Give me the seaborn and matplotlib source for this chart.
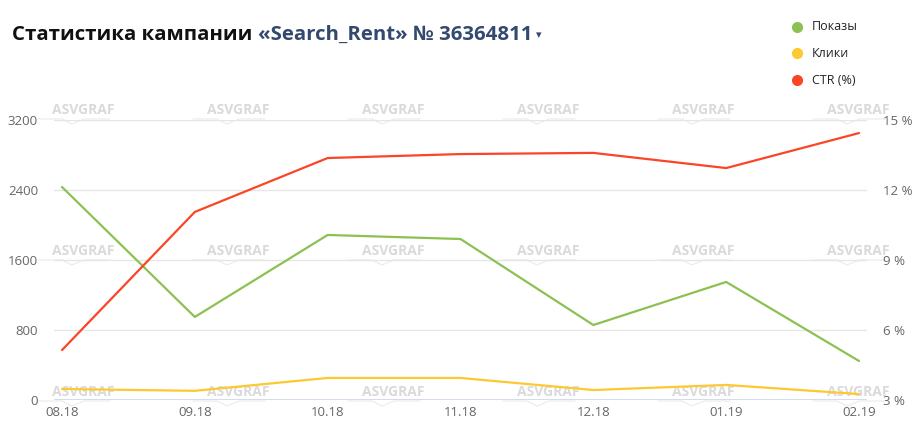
import numpy as np
import pandas as pd
import seaborn as sns
import matplotlib.pyplot as plt

# data
months = ['08.18', '09.18', '10.18', '11.18', '12.18', '01.19', '02.19']
shows = [2434, 949, 1886, 1840, 857, 1349, 446]
clicks = [126, 105, 252, 252, 114, 172, 68]
ctr = [5.14, 11.06, 13.37, 13.54, 13.59, 12.94, 14.44]

left_ticks = [0, 800, 1600, 2400, 3200]
right_ticks = [3, 6, 9, 12, 15]

GREEN = '#8cc152'
YELLOW = '#fdc830'
RED = '#fc4526'
TICK_COLOR = '#666666'

sns.set_theme(style='white')
plt.rcParams['font.family'] = ['Open Sans', 'DejaVu Sans']

df = pd.DataFrame({'x': np.arange(len(months)), 'shows': shows,
                   'clicks': clicks, 'ctr': ctr})

W, H = 920, 440
fig = plt.figure(figsize=(W / 100, H / 100), dpi=100)
# background axes for the watermark, below the chart
bg = fig.add_axes([0, 0, 1, 1])
bg.set_xlim(0, W)
bg.set_ylim(H, 0)
bg.axis('off')
ax = fig.add_axes([54 / W, 1 - 400 / H, (867 - 54) / W, 280 / H])
ax2 = ax.twinx()

# watermarks
for wy in [110, 251, 392]:
    for wx in [52, 207, 362, 517, 672, 827]:
        bg.text(wx + 31, wy, 'ASVGRAF', ha='center', va='center',
                fontsize=10, fontweight='bold', color='#dadada')
        bg.plot([wx - 14, wx + 10, wx + 20, wx + 32, wx + 58],
                [wy + 9, wy + 9, wy + 14, wy + 9, wy + 9], color='#ebebeb', lw=0.8)

sns.lineplot(data=df, x='x', y='shows', ax=ax, color=GREEN, linewidth=1.6)
sns.lineplot(data=df, x='x', y='clicks', ax=ax, color=YELLOW, linewidth=1.6)
sns.lineplot(data=df, x='x', y='ctr', ax=ax2, color=RED, linewidth=1.6)

step = (859 - 62) / 6
pad = (62 - 54) / step
ax.set_xlim(-pad, 6 + pad)
ax.set_ylim(0, 3200)
ax2.set_ylim(3, 15)

ax.set_yticks(left_ticks)
ax.set_yticklabels([str(t) for t in left_ticks])
ax2.set_yticks(right_ticks)
ax2.set_yticklabels([f'{t} %' for t in right_ticks])
ax.set_xticks(df['x'])
ax.set_xticklabels(months)

ax.grid(axis='y', color='#e6e6e6', linewidth=1)
ax.set_axisbelow(True)
for a in (ax, ax2):
    a.set_xlabel('')
    a.set_ylabel('')
    for s in a.spines.values():
        s.set_visible(False)
    a.patch.set_alpha(0)
ax.axhline(0, color='#ccd6eb', linewidth=1.2, zorder=1)

ax.tick_params(axis='y', length=0, pad=11.5, labelsize=9.5, labelcolor=TICK_COLOR)
ax2.tick_params(axis='y', length=0, pad=11.5, labelsize=9.5, labelcolor=TICK_COLOR)
ax.tick_params(axis='x', length=0, pad=4.5, labelsize=9.5, labelcolor=TICK_COLOR)

# title in two colours
t1 = fig.text(12 / W, 1 - 40 / H, 'Статистика кампании ', fontsize=14.7,
              fontweight='bold', color='#111111', va='baseline')
fig.canvas.draw()
bb = t1.get_window_extent()
t2 = fig.text(bb.x1 / W, 1 - 40 / H, '«Search_Rent» № 36364811', fontsize=14.7,
              fontweight='bold', color='#34496e', va='baseline')
fig.canvas.draw()
bb2 = t2.get_window_extent()
fig.text((bb2.x1 + 4) / W, 1 - 38 / H, '▾', fontsize=8, color='#34496e',
         va='baseline', family='DejaVu Sans')

# legend
for i, (name, col) in enumerate([('Показы', GREEN), ('Клики', YELLOW), ('CTR (%)', RED)]):
    yy = 27 + i * 26.5
    bg.plot([797], [yy], marker='o', markersize=7, color=col, linestyle='none')
    fig.text(812 / W, 1 - yy / H, name, fontsize=9, color='#222222', va='center')

fig.savefig('out.png', dpi=100)
